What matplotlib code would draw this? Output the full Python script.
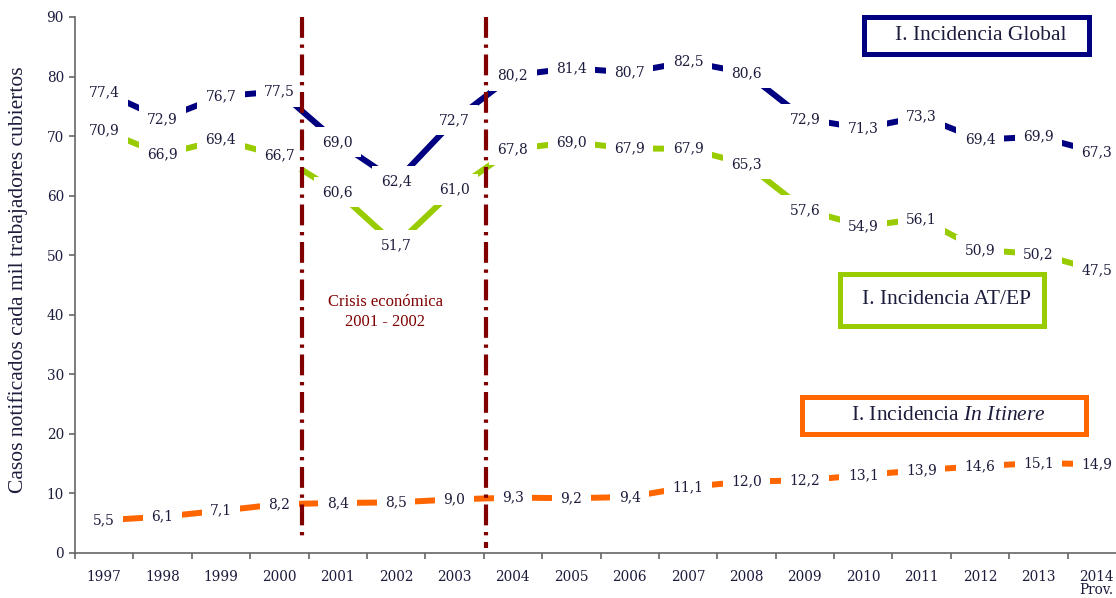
import numpy as np
import matplotlib
matplotlib.use("Agg")
import matplotlib.pyplot as plt
from matplotlib.patches import Rectangle

plt.rcParams['mathtext.fontset'] = 'custom'
plt.rcParams['mathtext.rm'] = 'Liberation Serif'
plt.rcParams['mathtext.it'] = 'Liberation Serif:italic'

# Data
years = ["1997", "1998", "1999", "2000", "2001", "2002", "2003", "2004", "2005",
         "2006", "2007", "2008", "2009", "2010", "2011", "2012", "2013", "2014\nProv."]
global_inc = [77.4, 72.9, 76.7, 77.5, 69.0, 62.4, 72.7, 80.2, 81.4,
              80.7, 82.5, 80.6, 72.9, 71.3, 73.3, 69.4, 69.9, 67.3]
atep_inc = [70.9, 66.9, 69.4, 66.7, 60.6, 51.7, 61.0, 67.8, 69.0,
            67.9, 67.9, 65.3, 57.6, 54.9, 56.1, 50.9, 50.2, 47.5]
itinere_inc = [5.5, 6.1, 7.1, 8.2, 8.4, 8.5, 9.0, 9.3, 9.2,
               9.4, 11.1, 12.0, 12.2, 13.1, 13.9, 14.6, 15.1, 14.9]
crisis_lines = [3.39, 6.54]   # category positions of the crisis markers
crisis_bottom = [1.8, 0.8]

NAVY = "#000080"
GREEN = "#99cc00"
ORANGE = "#ff6600"
DARKRED = "#800000"
TXT = "#1c1c3c"

fig = plt.figure(figsize=(11.16, 5.98), dpi=100)
# axes deliberately runs a bit past the right edge, like the original
ax = fig.add_axes([75 / 1116, 45 / 598, 1051 / 1116, 536 / 598])

x = np.arange(len(years))
for vals, col in [(global_inc, NAVY), (atep_inc, GREEN), (itinere_inc, ORANGE)]:
    ax.plot(x, vals, color=col, lw=4.3, solid_capstyle='butt', zorder=2)
    for xi, v in zip(x, vals):
        ax.text(xi, v, f"{v:.1f}".replace(".", ","), ha='center', va='center',
                fontsize=10, family='DejaVu Serif', color=TXT, zorder=3,
                bbox=dict(facecolor='white', edgecolor='none', pad=6))

# drawn top-down so the dash pattern starts at the top of the axis
for xc, yb in zip(crisis_lines, crisis_bottom):
    ax.plot([xc, xc], [90, yb], color=DARKRED, lw=3,
            linestyle=(0, (5, 1.6, 0.8, 1.6)), zorder=4, clip_on=False)

ax.text(4.81, 40.5, "Crisis económica\n2001 - 2002", ha='center', va='center',
        color=DARKRED, fontsize=12, family='Liberation Serif', linespacing=1.3)

ax.set_xlim(-0.5, len(years) - 0.5)
ax.set_ylim(0, 90)
ax.set_yticks(range(0, 91, 10))
ax.set_xticks(x)
ax.set_xticklabels(years, family='DejaVu Serif', fontsize=9.8, color=TXT, linespacing=0.95)
ax.set_xticks(np.arange(-0.5, len(years), 1), minor=True)
ax.tick_params(axis='x', which='major', length=0, pad=12)
ax.tick_params(axis='x', which='minor', length=4, width=1.2, color='#666666')
ax.tick_params(axis='y', length=4, width=1.2, color='#666666', pad=4)
for lab in ax.get_yticklabels():
    lab.set_family('DejaVu Serif')
    lab.set_fontsize(9.8)
    lab.set_color(TXT)
for s in ['top', 'right']:
    ax.spines[s].set_visible(False)
for s in ['left', 'bottom']:
    ax.spines[s].set_color('#666666')
    ax.spines[s].set_linewidth(1.2)

fig.text(18 / 1116, 1 - 280 / 598, "Casos notificados cada mil trabajadores cubiertos",
         rotation=90, ha='center', va='center', fontsize=15.5,
         family='Liberation Serif', color=TXT)

# legend boxes (figure pixel coordinates)
def box(x0, y0, x1, y1, col, label):
    fig.patches.append(Rectangle((x0 / 1116, 1 - y1 / 598), (x1 - x0) / 1116,
                                 (y1 - y0) / 598, transform=fig.transFigure,
                                 fill=False, edgecolor=col, lw=3.6))
    fig.text((x0 + x1) / 2 / 1116 + 0.004, 1 - (y0 + y1) / 2 / 598, label, ha='center',
             va='center', fontsize=15.5, family='Liberation Serif', color=TXT)

box(864, 17, 1089, 54, NAVY, "I. Incidencia Global")
box(840, 274, 1044, 326, GREEN, "I. Incidencia AT/EP")
box(802, 397, 1086, 434, ORANGE, r"I. Incidencia $\mathit{In\ Itinere}$")

fig.savefig("out.png", dpi=100)
